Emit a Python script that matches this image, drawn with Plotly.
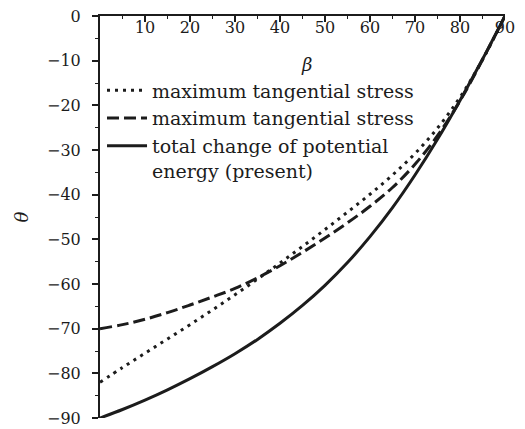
import plotly.graph_objects as go

# crack inclination angle beta (degrees)
beta = [0, 5, 10, 15, 20, 25, 30, 35, 40, 45, 50, 55, 60, 65, 70, 75, 80, 85, 90]

# crack initiation angle theta (degrees) for each criterion
theta_mts_dot = [-82, -78.7, -75.5, -72.3, -69.1, -65.8, -62.4, -58.9, -55.3, -51.6,
                 -47.8, -43.9, -39.9, -35.6, -30.8, -25.1, -18.2, -9.8, 0]
theta_mts_dash = [-70, -69.1, -67.9, -66.4, -64.7, -62.9, -61.0, -58.6, -55.9, -52.9,
                  -49.7, -46.3, -42.6, -38.4, -33.2, -26.8, -19.0, -9.8, 0]
theta_energy = [-90, -88.1, -86.0, -83.7, -81.2, -78.5, -75.6, -72.4, -68.8, -64.8,
                -60.3, -55.2, -49.4, -42.9, -35.6, -27.6, -18.9, -9.7, 0]

series_names = [
    "maximum tangential stress",
    "maximum tangential stress",
    "total change of potential<br>energy (present)",
]

x_ticks = [10, 20, 30, 40, 50, 60, 70, 80, 90]
y_ticks = [0, -10, -20, -30, -40, -50, -60, -70, -80, -90]

INK = "#1c1c1c"
FONT = "DejaVu Serif"

fig = go.Figure()
fig.add_trace(go.Scatter(x=beta, y=theta_mts_dot, mode="lines", name=series_names[0],
                         line=dict(color=INK, width=3, dash="3px,5px", shape="spline")))
fig.add_trace(go.Scatter(x=beta, y=theta_mts_dash, mode="lines", name=series_names[1],
                         line=dict(color=INK, width=3, dash="12px,5px", shape="spline")))
fig.add_trace(go.Scatter(x=beta, y=theta_energy, mode="lines", name=series_names[2],
                         line=dict(color=INK, width=3, shape="spline")))

fig.update_layout(
    width=525, height=429,
    margin=dict(l=100, r=20, t=16, b=11, autoexpand=False),
    paper_bgcolor="white", plot_bgcolor="white",
    font=dict(family=FONT, size=16, color=INK),
    showlegend=True,
    legend=dict(x=0.005, y=0.862, xanchor="left", yanchor="top",
                bgcolor="rgba(0,0,0,0)", valign="top",
                font=dict(family=FONT, size=19, color=INK),
                itemwidth=40, tracegroupgap=0),
    xaxis=dict(
        side="top", range=[0, 90], showgrid=False, zeroline=False, automargin=False,
        showline=True, linecolor=INK, linewidth=2,
        tickmode="array", tickvals=x_ticks, ticktext=[str(v) for v in x_ticks],
        ticks="inside", ticklen=6, tickwidth=1.5, tickcolor=INK,
        ticklabelposition="inside", ticklabeloverflow="allow",
        minor=dict(tickmode="array", tickvals=[5, 15, 25, 35, 45, 55, 65, 75, 85],
                   ticks="inside", ticklen=3, tickcolor=INK, tickwidth=1.2),
        tickfont=dict(family=FONT, size=16, color=INK),
    ),
    yaxis=dict(
        range=[-90, 0], showgrid=False, zeroline=False, automargin=False,
        showline=True, linecolor=INK, linewidth=2,
        tickmode="array", tickvals=y_ticks,
        ticks="outside", ticklen=6, tickwidth=1.5, tickcolor=INK,
        ticklabelstandoff=8, ticklabeloverflow="allow",
        minor=dict(tickmode="array", tickvals=[-5, -15, -25, -35, -45, -55, -65, -75, -85],
                   ticks="outside", ticklen=3, tickcolor=INK, tickwidth=1.2),
        tickfont=dict(family=FONT, size=16, color=INK),
        title=dict(text="<i>θ</i>", font=dict(family=FONT, size=18, color=INK), standoff=14),
    ),
    annotations=[dict(text="<i>β</i>", x=0.51, y=0.91, xref="paper", yref="paper",
                      showarrow=False, font=dict(family=FONT, size=18, color=INK))],
)

fig.write_html("out.html")
